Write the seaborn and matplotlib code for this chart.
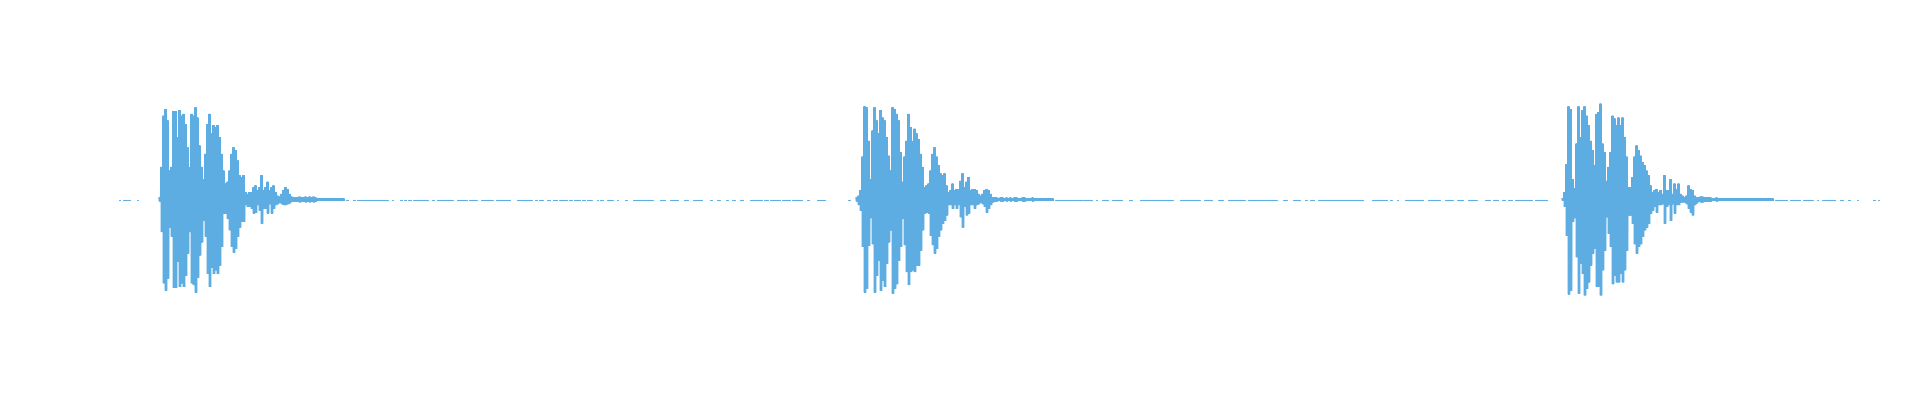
import numpy as np
import pandas as pd
import seaborn as sns
import matplotlib
matplotlib.use("Agg")
import matplotlib.pyplot as plt

# time in ms, amplitude normalised to the loudest peak
frame_ms = 2
clip_ms = 1762

# clap 1
b1_onset = 41
b1_top = [0.02, 0.35, 0.90, 0.97, 0.85, 0.31, 0.35, 0.95, 0.95, 0.67, 0.96, 0.90, 0.92, 0.81, 0.56, 0.35,
          0.92, 0.90, 0.99, 0.88, 0.58, 0.35, 0.22, 0.49, 0.81, 0.92, 0.71, 0.80, 0.78, 0.80, 0.67, 0.49,
          0.31, 0.17, 0.19, 0.31, 0.49, 0.56, 0.53, 0.42, 0.26, 0.24, 0.26, 0.08, 0.06, 0.08, 0.08, 0.13,
          0.15, 0.10, 0.13, 0.26, 0.10, 0.13, 0.19, 0.10, 0.13, 0.15, 0.08, 0.04, 0.03, 0.06, 0.10, 0.13,
          0.11, 0.06, 0.03]
b1_bot = [0.02, 0.35, 0.90, 0.98, 0.85, 0.30, 0.40, 0.95, 0.95, 0.67, 0.94, 0.90, 0.94, 0.82, 0.58, 0.35,
          0.90, 0.92, 1.00, 0.84, 0.60, 0.46, 0.23, 0.40, 0.80, 0.94, 0.73, 0.80, 0.76, 0.80, 0.71, 0.51,
          0.15, 0.15, 0.21, 0.33, 0.51, 0.57, 0.53, 0.40, 0.30, 0.24, 0.24, 0.06, 0.08, 0.08, 0.10, 0.15,
          0.14, 0.06, 0.12, 0.26, 0.10, 0.10, 0.15, 0.05, 0.15, 0.10, 0.06, 0.05, 0.03, 0.05, 0.06, 0.06,
          0.05, 0.04, 0.02]
b1_tail = [0.02, 0.02, 0.02, 0.03, 0.025, 0.02, 0.03, 0.02, 0.03, 0.025, 0.03, 0.02, 0.015, 0.015,
           0.01, 0.01, 0.01, 0.01, 0.01, 0.01, 0.01, 0.01, 0.01, 0.01, 0.01, 0.01]

# clap 2
b2_onset = 738
b2_top = [0.02, 0.04, 0.10, 0.46, 1.00, 0.99, 0.63, 0.22, 0.74, 0.99, 0.85, 0.71, 0.96, 0.88, 0.85, 0.67,
          0.47, 0.31, 0.99, 0.97, 0.92, 0.85, 0.51, 0.19, 0.46, 0.63, 0.92, 0.78, 0.63, 0.76, 0.71, 0.65,
          0.49, 0.35, 0.13, 0.15, 0.17, 0.31, 0.49, 0.56, 0.46, 0.37, 0.28, 0.26, 0.28, 0.15, 0.08, 0.10,
          0.17, 0.10, 0.11, 0.11, 0.20, 0.28, 0.13, 0.19, 0.24, 0.10, 0.11, 0.11, 0.10, 0.06, 0.04, 0.06,
          0.10, 0.11, 0.10, 0.06, 0.02]
b2_bot = [0.02, 0.06, 0.12, 0.51, 1.00, 0.96, 0.50, 0.20, 0.48, 1.00, 0.82, 0.66, 0.98, 0.87, 0.94, 0.69,
          0.46, 0.33, 1.01, 0.96, 0.91, 0.66, 0.51, 0.21, 0.49, 0.78, 0.92, 0.78, 0.76, 0.78, 0.71, 0.71,
          0.55, 0.33, 0.15, 0.14, 0.15, 0.39, 0.49, 0.58, 0.53, 0.40, 0.33, 0.26, 0.23, 0.17, 0.06, 0.06,
          0.10, 0.06, 0.10, 0.06, 0.19, 0.30, 0.08, 0.17, 0.15, 0.06, 0.06, 0.10, 0.06, 0.05, 0.03, 0.05,
          0.08, 0.14, 0.10, 0.06, 0.03]
b2_tail = [0.02, 0.02, 0.015, 0.02, 0.02, 0.01, 0.02, 0.015, 0.02, 0.01, 0.02, 0.02, 0.015, 0.01, 0.02,
           0.02, 0.01, 0.015, 0.01, 0.02, 0.01, 0.01, 0.015, 0.01, 0.01, 0.01, 0.01, 0.01, 0.01, 0.01]

# clap 3
b3_onset = 1444
b3_top = [0.01, 0.08, 0.38, 1.00, 0.97, 0.22, 0.12, 0.60, 1.00, 0.67, 0.96, 1.00, 0.90, 0.80, 0.63, 0.53,
          0.37, 0.92, 0.94, 1.03, 0.60, 0.51, 0.20, 0.35, 0.51, 0.90, 0.87, 0.80, 0.88, 0.80, 0.88, 0.67,
          0.46, 0.13, 0.13, 0.24, 0.46, 0.58, 0.53, 0.47, 0.40, 0.37, 0.31, 0.26, 0.15, 0.08, 0.10, 0.11,
          0.08, 0.10, 0.06, 0.26, 0.10, 0.10, 0.22, 0.06, 0.17, 0.11, 0.17, 0.06, 0.04, 0.02, 0.04, 0.15,
          0.11, 0.10, 0.04, 0.02, 0.02]
b3_bot = [0.01, 0.08, 0.39, 1.02, 0.98, 0.24, 0.20, 0.62, 1.01, 0.69, 0.80, 1.03, 0.96, 0.89, 0.71, 0.58,
          0.53, 0.94, 0.94, 1.03, 0.76, 0.55, 0.19, 0.37, 0.51, 0.91, 0.82, 0.89, 0.89, 0.80, 0.89, 0.76,
          0.55, 0.17, 0.17, 0.26, 0.48, 0.58, 0.51, 0.48, 0.40, 0.33, 0.30, 0.26, 0.15, 0.12, 0.08, 0.14,
          0.06, 0.06, 0.05, 0.26, 0.08, 0.06, 0.23, 0.05, 0.15, 0.06, 0.06, 0.03, 0.03, 0.03, 0.05, 0.10,
          0.14, 0.17, 0.06, 0.04, 0.02]
b3_tail = [0.03, 0.03, 0.025, 0.02, 0.025, 0.02, 0.015, 0.015, 0.02, 0.015, 0.01, 0.015, 0.01, 0.01,
           0.015, 0.01, 0.01, 0.01, 0.01, 0.015, 0.01, 0.01, 0.01, 0.01, 0.01, 0.01, 0.01, 0.01, 0.01,
           0.01, 0.01, 0.01, 0.01, 0.01, 0.01, 0.01, 0.01]

# stretches of faint room noise (start ms, end ms); silent elsewhere
noise_start = [1, 5, 10, 19,
               228, 235, 239, 274, 282, 286, 290, 295, 314, 319, 339, 351, 363, 378, 399, 417, 421, 429,
               435, 441, 451, 456, 464, 469, 479, 482, 489, 499, 507, 515, 542, 552, 566, 575, 592, 599,
               608, 614, 622, 632, 646, 652, 664, 674, 689, 699, 730,
               937, 965, 978, 984, 994, 1011, 1022, 1062, 1086, 1100, 1110, 1130, 1165, 1175, 1187, 1192,
               1200, 1254, 1272, 1279, 1287, 1310, 1327, 1339, 1350, 1367, 1375, 1384, 1390, 1397, 1417,
               1657, 1672, 1685, 1699, 1704, 1722, 1730, 1739, 1755, 1760]
noise_end = [2, 9, 12, 20,
             230, 237, 270, 275, 284, 288, 293, 310, 316, 335, 349, 359, 375, 392, 414, 419, 425, 432,
             439, 449, 454, 462, 467, 474, 480, 485, 495, 500, 509, 535, 547, 560, 570, 584, 594, 602,
             610, 617, 625, 644, 650, 662, 672, 684, 691, 707, 732,
             964, 974, 979, 990, 1004, 1014, 1055, 1082, 1094, 1105, 1127, 1159, 1169, 1182, 1189, 1196,
             1245, 1269, 1274, 1280, 1305, 1322, 1335, 1345, 1359, 1372, 1380, 1387, 1394, 1414, 1429,
             1669, 1682, 1695, 1700, 1717, 1725, 1732, 1740, 1757, 1761]

wave_color = "#5DADE2"


def clap_frame(onset, top, bot, tail, seg):
    # swing between the upper and lower peak several times per frame,
    # like the raw samples do, so each frame reads as a solid column
    tops = list(top) + list(tail)
    bots = list(bot) + list(tail)
    rows = []
    for i, (a, b) in enumerate(zip(tops, bots)):
        t0 = onset + i * frame_ms
        for j in range(4):
            rows.append((t0 + j * frame_ms / 4, a if j % 2 == 0 else -b, seg))
    return rows


rows = []
rows += clap_frame(b1_onset, b1_top, b1_bot, b1_tail, "clap1")
rows += clap_frame(b2_onset, b2_top, b2_bot, b2_tail, "clap2")
rows += clap_frame(b3_onset, b3_top, b3_bot, b3_tail, "clap3")
claps = pd.DataFrame(rows, columns=["t", "amp", "seg"])

noise_rows = []
for k, (s, e) in enumerate(zip(noise_start, noise_end)):
    noise_rows.append((s, 0.0, k))
    noise_rows.append((e, 0.0, k))
noise = pd.DataFrame(noise_rows, columns=["t", "amp", "seg"])

sns.set_style("white")

fig = plt.figure(figsize=(19.2, 4), dpi=100)
ax = fig.add_axes([118 / 1920, 0, 1762 / 1920, 1])

sns.lineplot(data=noise, x="t", y="amp", units="seg", estimator=None, sort=False,
             color=wave_color, linewidth=0.8, legend=False, ax=ax)
sns.lineplot(data=claps, x="t", y="amp", units="seg", estimator=None, sort=False,
             color=wave_color, linewidth=1.0, solid_joinstyle="bevel", legend=False, ax=ax)

ax.set_xlim(0, clip_ms)
ax.set_ylim(-200.5 / 93, 199.5 / 93)
ax.axis("off")

fig.savefig("out.png", dpi=100, facecolor="white")
